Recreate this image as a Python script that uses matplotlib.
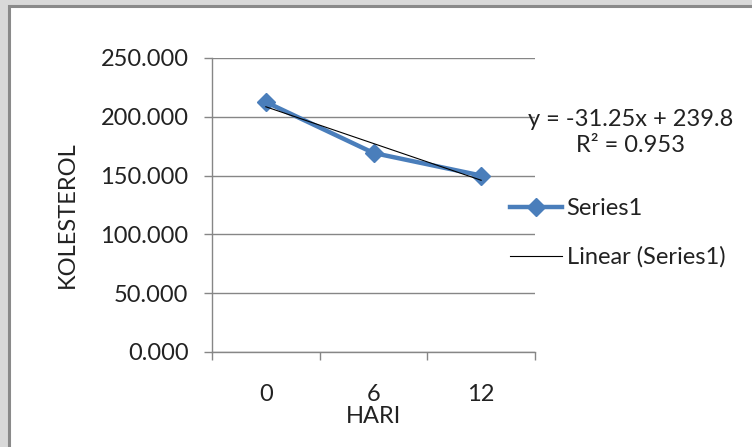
import numpy as np
import matplotlib
matplotlib.use("Agg")
import matplotlib.pyplot as plt
from matplotlib.patches import Rectangle

# --- data ---
hari = ["0", "6", "12"]
kolesterol = [212.55, 169.25, 150.05]
y_ticks = [0, 50, 100, 150, 200, 250]

plt.rcParams["font.family"] = ["Lato", "DejaVu Sans"]
FS = 17
GRAY = "#868686"
BLUE = "#4a7ebb"

W, H = 752, 447
fig = plt.figure(figsize=(W / 100, H / 100), dpi=100, facecolor="#d9d9d9")

# white chart area with dark border (Excel frame)
fig.patches.append(Rectangle((9 / W, -0.1), 1.2, 1.1 - 6 / H, transform=fig.transFigure,
                             facecolor="white", edgecolor="#8a8a8a", lw=2.2, zorder=-5))

ax = fig.add_axes([212 / W, 1 - 352 / H, (535 - 212) / W, (352 - 58) / H])
ax.set_zorder(2)
ax.set_facecolor("none")

# category positions 1..n, Excel style
x = np.arange(1, len(hari) + 1)
ax.plot(x, kolesterol, color=BLUE, lw=3.2, marker="D", ms=9, mec=BLUE, mfc=BLUE,
        label="Series1", zorder=3)

# linear trendline
m, b = np.polyfit(x, kolesterol, 1)
fit = m * x + b
r2 = 1 - np.sum((np.array(kolesterol) - fit) ** 2) / np.sum((np.array(kolesterol) - np.mean(kolesterol)) ** 2)
ax.plot(x, fit, color="black", lw=0.8, label="Linear (Series1)", zorder=4)

ax.set_xlim(0.5, len(hari) + 0.5)
ax.set_ylim(0, 250)
ax.set_yticks(y_ticks)
ax.set_yticklabels([f"{v:.3f}" for v in y_ticks], fontsize=FS, color="#222222")
ax.yaxis.grid(True, color=GRAY, lw=1.0)
ax.set_axisbelow(True)

# tick marks between categories, labels at category centers
ax.set_xticks(np.arange(0.5, len(hari) + 1, 1.0))
ax.set_xticklabels([])
ax.set_xticks(x, minor=True)
ax.set_xticklabels(hari, minor=True, fontsize=FS, color="#222222")
ax.tick_params(axis="x", which="major", length=6, color=GRAY, width=1)
ax.tick_params(axis="x", which="minor", length=0, pad=23)
ax.tick_params(axis="y", length=6, color=GRAY, width=1, pad=11)

for s in ["top", "right"]:
    ax.spines[s].set_visible(False)
for s in ["left", "bottom"]:
    ax.spines[s].set_color(GRAY)
    ax.spines[s].set_linewidth(1.0)

ax.set_xlabel("HARI", fontsize=FS, color="#222222")
ax.xaxis.set_label_coords(0.5, (352 - 406) / 294)
ax.set_ylabel("KOLESTEROL", fontsize=FS, color="#222222")
ax.yaxis.set_label_coords(-0.415, 0.466)

leg = ax.legend(loc="center left", bbox_to_anchor=(510 / W, 1 - 233 / H),
                bbox_transform=fig.transFigure, frameon=False, fontsize=FS,
                borderpad=0, borderaxespad=0, handlelength=2.2, handletextpad=0.2,
                labelspacing=1.15)
for t in leg.get_texts():
    t.set_color("#222222")

fig.text(631 / W, 1 - 119 / H, f"y = {m:.2f}x + {b:.1f}", ha="center", va="center",
         fontsize=FS, color="#222222")
fig.text(631 / W, 1 - 145 / H, f"R² = {r2:.3f}", ha="center", va="center",
         fontsize=FS, color="#222222")

fig.savefig("out.png", dpi=100, facecolor=fig.get_facecolor())
print(m, b, r2)
